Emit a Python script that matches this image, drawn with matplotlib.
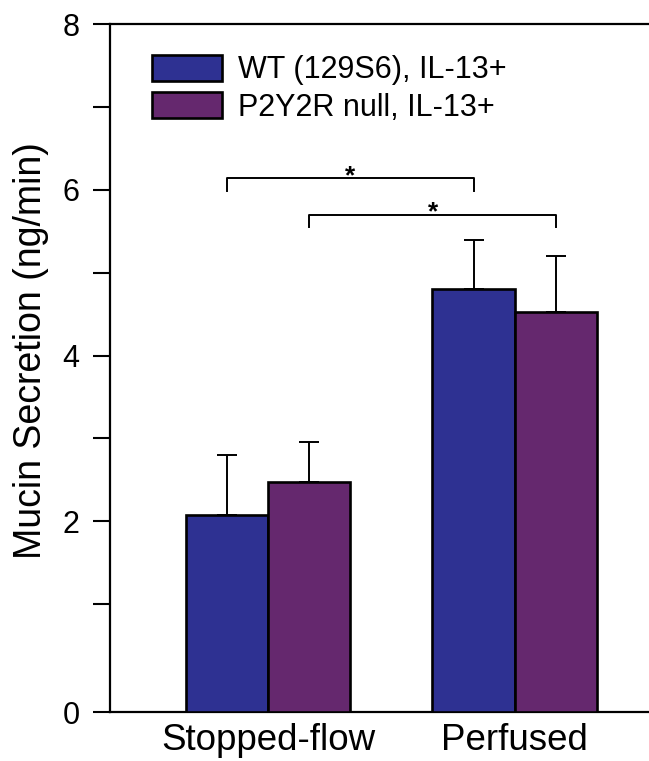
import numpy as np
import matplotlib
matplotlib.use("Agg")
import matplotlib.pyplot as plt

plt.rcParams['font.family'] = ['Liberation Sans', 'DejaVu Sans']

# data
groups = ["Stopped-flow", "Perfused"]
series = ["WT (129S6), IL-13+", "P2Y2R null, IL-13+"]
wt_mean = [2.08, 4.80]
wt_err = [0.72, 0.60]
null_mean = [2.48, 4.53]
null_err = [0.48, 0.67]
colors = ["#2E3192", "#65286E"]

# significance brackets: (x_left, x_right, height, drop)
brackets = [(-0.167, 0.833, 6.14, 5.98), (0.167, 1.167, 5.70, 5.55)]


# the original axis has a stretched first unit (0-1 is taller than the rest)
def fwd(y):
    return np.interp(y, [-10, 0, 1, 100], [-13, 0, 1.3, 100.3])


def inv(y):
    return np.interp(y, [-13, 0, 1.3, 100.3], [-10, 0, 1, 100])


fig = plt.figure(figsize=(6.49, 7.61), dpi=100)
ax = fig.add_axes([110 / 649, 49 / 761, 539 / 649, 688 / 761])
ax.set_yscale('function', functions=(fwd, inv))

x = np.arange(len(groups))
w = 0.334
ax.bar(x - w / 2, wt_mean, w, color=colors[0], edgecolor='black', linewidth=1.9,
       label=series[0], zorder=3)
ax.bar(x + w / 2, null_mean, w, color=colors[1], edgecolor='black', linewidth=1.9,
       label=series[1], zorder=3)
ax.errorbar(x - w / 2, wt_mean, yerr=[np.zeros(2), wt_err], fmt='none', ecolor='black',
            elinewidth=1.4, capsize=7, capthick=1.4, zorder=2)
ax.errorbar(x + w / 2, null_mean, yerr=[np.zeros(2), null_err], fmt='none', ecolor='black',
            elinewidth=1.4, capsize=7, capthick=1.4, zorder=2)

for x0, x1, h, d in brackets:
    ax.plot([x0, x0, x1, x1], [d, h, h, d], color='black', lw=1.4, clip_on=False)
    ax.text((x0 + x1) / 2, h - 0.06, "*", ha='center', va='baseline', fontsize=19,
            fontweight='bold')

ax.set_xlim(-0.640, 1.543)
ax.set_ylim(0, 8)
ax.set_xticks(x)
ax.set_xticklabels(groups, fontsize=26.5)
ax.tick_params(axis='x', length=0, pad=8)
ax.set_yticks([0, 2, 4, 6, 8])
ax.set_yticks([1, 3, 5, 7], minor=True)
ax.set_yticklabels(['0', '2', '4', '6', '8'], fontsize=22)
ax.tick_params(axis='y', which='both', length=12, width=1.5, direction='out', pad=10)
ax.yaxis.set_minor_formatter(plt.NullFormatter())

ax.spines['right'].set_visible(False)
for s in ['left', 'top', 'bottom']:
    ax.spines[s].set_linewidth(1.6)

ax.set_ylabel("Mucin Secretion (ng/min)", fontsize=27)
ax.yaxis.set_label_coords(-0.113, 0.526)

ax.legend(loc='upper left', bbox_to_anchor=(42 / 539, 1 - 31 / 688), frameon=False,
          fontsize=22, handlelength=2.3, handleheight=0.92, handletextpad=0.5,
          labelspacing=0.22, borderpad=0, borderaxespad=0)

fig.savefig("out.png", dpi=100)
